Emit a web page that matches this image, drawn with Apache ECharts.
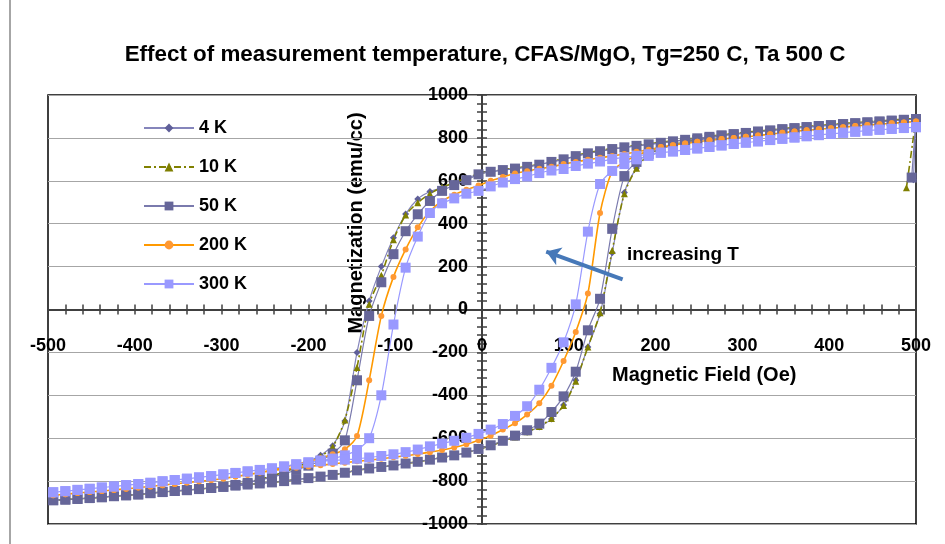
<!DOCTYPE html>
<html>
<head>
<meta charset="utf-8">
<title>CFAS/MgO hysteresis</title>
<script src="https://cdn.jsdelivr.net/npm/echarts@6/dist/echarts.min.js"></script>
<style>
  html, body { margin: 0; padding: 0; background: #fff; }
  #chart { width: 945px; height: 544px; }
</style>
</head>
<body>
<div id="chart"></div>
<script>
// applied field (Oe), sweep from +500 down to -494
const fields = [500, 486, 472, 458, 444, 430, 416, 402, 388, 374, 360, 346, 332, 318, 304, 290, 276, 262,
  248, 234, 220, 206, 192, 178, 164, 150, 136, 122, 108, 94, 80, 66, 52, 38, 24, 10,
  -4, -18, -32, -46, -60, -74, -88, -102, -116, -130, -144, -158, -172, -186, -200, -214, -228, -242,
  -256, -270, -284, -298, -312, -326, -340, -354, -368, -382, -396, -410, -424, -438, -452, -466, -480, -494];

// magnetization (emu/cc) on the decreasing-field branch, same order as fields
const dec4K = [888, 884, 880, 876, 872, 868, 864, 859, 855, 850, 845, 840, 834, 829, 823, 817, 811, 805,
  798, 791, 784, 777, 770, 763, 756, 748, 738, 728, 715, 700, 688, 675, 665, 657, 650, 642,
  633, 610, 590, 568, 550, 515, 445, 335, 200, 40, -200, -520, -635, -680, -710, -735, -758, -776,
  -792, -806, -816, -826, -832, -837, -842, -846, -851, -856, -862, -866, -870, -875, -879, -883, -886, -889];
const dec10K = [891, 887, 883, 879, 875, 871, 867, 862, 858, 853, 848, 843, 837, 832, 826, 820, 814, 808,
  801, 794, 787, 780, 773, 766, 759, 751, 741, 731, 718, 703, 690, 677, 667, 659, 652, 644,
  633, 612, 592, 570, 540, 498, 440, 325, 160, 25, -270, -515, -640, -685, -712, -735, -758, -776,
  -792, -806, -816, -826, -832, -837, -842, -846, -851, -856, -862, -866, -870, -875, -879, -883, -886, -889];
const dec50K = [888, 884, 880, 876, 872, 868, 864, 859, 855, 850, 845, 840, 834, 829, 823, 817, 811, 805,
  798, 791, 784, 777, 770, 763, 756, 748, 738, 728, 715, 700, 688, 675, 665, 657, 650, 642,
  630, 603, 580, 553, 506, 444, 365, 258, 127, -30, -330, -610, -672, -705, -728, -748, -766, -781,
  -795, -808, -818, -826, -832, -837, -842, -846, -851, -856, -862, -866, -870, -875, -879, -883, -886, -889];
const dec200K = [876, 872, 868, 864, 860, 855, 850, 845, 840, 836, 830, 824, 817, 811, 805, 800, 795, 789,
  782, 774, 766, 757, 745, 735, 725, 716, 707, 698, 688, 678, 665, 656, 645, 634, 618, 600,
  578, 558, 535, 506, 458, 383, 280, 152, -30, -330, -590, -652, -675, -693, -708, -722, -735, -748,
  -760, -770, -779, -788, -795, -801, -807, -813, -819, -825, -830, -836, -841, -846, -851, -856, -861, -866];
const dec300K = [850, 846, 842, 838, 834, 829, 824, 819, 813, 808, 802, 796, 790, 784, 778, 772, 765, 758,
  751, 744, 737, 731, 724, 716, 709, 701, 690, 680, 669, 655, 648, 636, 620, 608, 592, 574,
  553, 540, 518, 495, 450, 340, 195, -70, -400, -600, -655, -680, -695, -704, -713, -722, -732, -741,
  -748, -755, -762, -769, -777, -783, -789, -795, -801, -808, -814, -819, -825, -830, -836, -841, -847, -852];

// magnetization (emu/cc) on the increasing-field branch, same order as fields
const inc4K = [888, 884, 880, 876, 872, 868, 864, 859, 855, 850, 845, 840, 834, 829, 823, 817, 811, 800,
  790, 778, 765, 748, 722, 660, 545, 265, -20, -175, -330, -445, -510, -548, -572, -594, -615, -635,
  -652, -667, -680, -690, -700, -710, -718, -727, -734, -741, -750, -761, -771, -779, -786, -793, -800, -806,
  -811, -816, -821, -827, -832, -837, -842, -846, -851, -856, -862, -866, -870, -875, -879, -883, -886, -889];
const inc10K = [891, 887, 883, 879, 875, 871, 867, 862, 858, 853, 848, 843, 837, 832, 826, 820, 814, 803,
  793, 781, 768, 750, 722, 658, 540, 275, -15, -175, -335, -448, -508, -546, -570, -594, -615, -635,
  -652, -667, -680, -690, -700, -710, -718, -727, -734, -741, -750, -761, -771, -779, -786, -793, -800, -806,
  -811, -816, -821, -827, -832, -837, -842, -846, -851, -856, -862, -866, -870, -875, -879, -883, -886, -889];
const inc50K = [888, 884, 880, 876, 872, 868, 864, 859, 855, 850, 845, 840, 834, 829, 823, 817, 811, 800,
  790, 779, 767, 752, 725, 688, 622, 376, 50, -97, -290, -405, -478, -532, -563, -588, -612, -633,
  -650, -667, -680, -690, -700, -710, -718, -727, -734, -741, -750, -761, -771, -779, -786, -793, -800, -806,
  -811, -816, -821, -827, -832, -837, -842, -846, -851, -856, -862, -866, -870, -875, -879, -883, -886, -889];
const inc200K = [876, 872, 868, 864, 860, 855, 850, 845, 840, 836, 830, 824, 817, 811, 805, 800, 795, 789,
  782, 774, 766, 757, 738, 718, 688, 645, 450, 75, -105, -240, -355, -437, -490, -530, -560, -588,
  -610, -628, -643, -655, -665, -674, -682, -689, -696, -702, -708, -714, -720, -726, -732, -738, -744, -751,
  -760, -770, -779, -788, -795, -801, -807, -813, -819, -825, -830, -836, -841, -846, -851, -856, -861, -866];
const inc300K = [850, 846, 842, 838, 834, 829, 824, 819, 813, 808, 802, 796, 790, 784, 778, 772, 765, 758,
  751, 744, 737, 731, 716, 700, 678, 646, 585, 363, 24, -153, -272, -374, -451, -496, -534, -560,
  -580, -598, -612, -625, -638, -653, -665, -675, -683, -690, -696, -700, -704, -708, -713, -722, -732, -741,
  -748, -755, -762, -769, -777, -783, -789, -795, -801, -808, -814, -819, -825, -830, -836, -841, -847, -852];

// odd first reading near +490 Oe for the low temperature runs
const start4K = [497, 605];
const start10K = [489, 568];
const start50K = [495, 615];

const xTicks = { min: -500, max: 500, step: 100 };
const yTicks = { min: -1000, max: 1000, step: 200 };

const FONT = '"Liberation Sans", Arial, sans-serif';
const AXIS = '#404040';
const PLOT = { left: 48, right: 29, top: 95, bottom: 20, outerBoundsMode: 'none', containLabel: false };

function loop(dec, inc, start) {
  const pts = [];
  if (start) pts.push(start);
  fields.forEach((h, i) => pts.push([h, dec[i]]));
  for (let i = fields.length - 1; i >= 0; i--) pts.push([fields[i], inc[i]]);
  return pts;
}

// one axis pair per grid; the two grids overlap, so the ticks cross the zero lines.
// labels stay anchored at the plot edge, so a negative margin pulls them to the zero lines.
function xAxisCfg(gridIndex, position, labels) {
  return {
    type: 'value', gridIndex: gridIndex, position: position,
    min: xTicks.min, max: xTicks.max, interval: xTicks.step,
    axisLine: { onZero: true, lineStyle: { color: AXIS, width: 2 } },
    axisTick: { length: 5, lineStyle: { color: AXIS, width: 1.5 } },
    minorTick: { show: true, splitNumber: 5, length: 5, lineStyle: { color: AXIS, width: 1.5 } },
    axisLabel: { show: labels, formatter: v => String(v), fontFamily: FONT, fontWeight: 'bold',
      fontSize: 18, color: '#000', margin: -187 },
    splitLine: { show: false }
  };
}
function yAxisCfg(gridIndex, position, labels) {
  return {
    type: 'value', gridIndex: gridIndex, position: position,
    min: yTicks.min, max: yTicks.max, interval: yTicks.step,
    axisLine: { onZero: true, lineStyle: { color: AXIS, width: 2 } },
    axisTick: { length: 5, lineStyle: { color: AXIS, width: 1.5 } },
    minorTick: { show: true, splitNumber: 5, length: 5, lineStyle: { color: AXIS, width: 1.5 } },
    axisLabel: { show: labels, formatter: v => String(v), fontFamily: FONT, fontWeight: 'bold',
      fontSize: 18, color: '#000', margin: -420, padding: [5, 0, 0, 0] },
    splitLine: { show: labels, lineStyle: { color: '#a6a6a6', width: 1 } }
  };
}

const chart = echarts.init(document.getElementById('chart'));
chart.setOption({
  animation: false,
  backgroundColor: '#fff',
  grid: [
    Object.assign({ show: true, borderColor: '#000', borderWidth: 1.5 }, PLOT),
    Object.assign({ show: false }, PLOT)
  ],
  xAxis: [xAxisCfg(0, 'bottom', true), xAxisCfg(1, 'top', false)],
  yAxis: [yAxisCfg(0, 'left', true), yAxisCfg(1, 'right', false)],
  legend: {
    orient: 'vertical', left: 138, top: 114,
    itemWidth: 50, itemHeight: 11, itemGap: 21,
    textStyle: { fontFamily: FONT, fontWeight: 'bold', fontSize: 18, color: '#000' },
    data: ['4 K', '10 K', '50 K', '200 K', '300 K']
  },
  graphic: [
    { type: 'line', shape: { x1: 10, y1: 0, x2: 10, y2: 544 }, style: { stroke: '#a6a6a6', lineWidth: 2 } },
    { type: 'text', x: 485, y: 55, style: { text: 'Effect of measurement temperature, CFAS/MgO, Tg=250 C, Ta 500 C',
      font: 'bold 22.4px ' + FONT, fill: '#000', align: 'center', verticalAlign: 'middle' } },
    { type: 'text', x: 356, y: 223, rotation: Math.PI / 2, style: { text: 'Magnetization (emu/cc)',
      font: 'bold 20px ' + FONT, fill: '#000', align: 'center', verticalAlign: 'middle' } },
    { type: 'text', x: 612, y: 375, style: { text: 'Magnetic Field (Oe)',
      font: 'bold 20px ' + FONT, fill: '#000', align: 'left', verticalAlign: 'middle' } },
    { type: 'text', x: 627, y: 255, style: { text: 'increasing T',
      font: 'bold 19px ' + FONT, fill: '#000', align: 'left', verticalAlign: 'middle' } }
  ],
  series: [
    {
      name: '4 K', type: 'line', smooth: 0.25, data: loop(dec4K, inc4K, start4K),
      symbol: 'diamond', symbolSize: 7,
      itemStyle: { color: '#5f5f99' },
      lineStyle: { color: '#8585bb', width: 1.2 }
    },
    {
      name: '10 K', type: 'line', smooth: 0.25, data: loop(dec10K, inc10K, start10K),
      symbol: 'triangle', symbolSize: 7,
      itemStyle: { color: '#7f7f00' },
      lineStyle: { color: '#808000', width: 1.6, type: [7, 3, 2, 3] }
    },
    {
      name: '50 K', type: 'line', smooth: 0.25, data: loop(dec50K, inc50K, start50K),
      symbol: 'rect', symbolSize: 10,
      itemStyle: { color: '#666699' },
      lineStyle: { color: '#7a7aad', width: 1.2 }
    },
    {
      name: '200 K', type: 'line', smooth: 0.25, data: loop(dec200K, inc200K),
      symbol: 'circle', symbolSize: 6,
      itemStyle: { color: '#ff9933' },
      lineStyle: { color: '#ff9900', width: 1.6 }
    },
    {
      name: '300 K', type: 'line', smooth: 0.25, data: loop(dec300K, inc300K),
      symbol: 'rect', symbolSize: 10,
      itemStyle: { color: '#9999ff' },
      lineStyle: { color: '#9999ff', width: 1.2 },
      markLine: {
        silent: true, symbol: ['none', 'arrow'], symbolSize: 14,
        lineStyle: { color: '#4678b8', width: 4, type: 'solid' },
        label: { show: false },
        data: [[{ coord: [162, 141] }, { coord: [74, 270] }]]
      }
    }
  ]
});
</script>
</body>
</html>
